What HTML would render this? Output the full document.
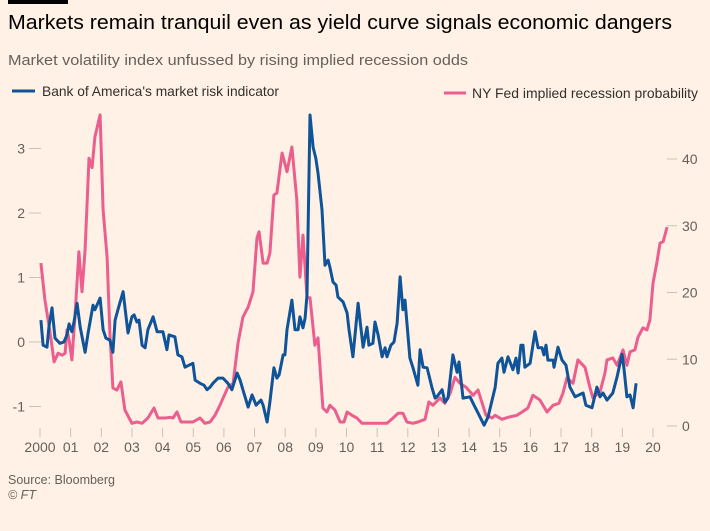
<!DOCTYPE html>
<html><head><meta charset="utf-8"><style>
body{margin:0;background:#fff1e5;}
svg{display:block;font-family:"Liberation Sans",sans-serif;}
</style></head><body>
<svg id="chart" width="710" height="531" viewBox="0 0 710 531">
<rect width="710" height="531" fill="#fff1e5"/>
<rect x="8" y="0" width="60" height="4" fill="#000"/>
<text x="8" y="29" font-size="20" fill="#000" textLength="664" lengthAdjust="spacingAndGlyphs">Markets remain tranquil even as yield curve signals economic dangers</text>
<text x="8" y="65" font-size="15" fill="#66605c" textLength="460" lengthAdjust="spacingAndGlyphs">Market volatility index unfussed by rising implied recession odds</text>
<g>
<line x1="12" y1="91" x2="35" y2="91" stroke="#0f5499" stroke-width="3"/>
<text x="42" y="96" font-size="14" fill="#33302e" textLength="237" lengthAdjust="spacingAndGlyphs">Bank of America's market risk indicator</text>
</g>
<g>
<line x1="444" y1="93" x2="466" y2="93" stroke="#eb5e8d" stroke-width="3"/>
<text x="472" y="98" font-size="14" fill="#33302e" textLength="226" lengthAdjust="spacingAndGlyphs">NY Fed implied recession probability</text>
</g>
<g id="axes"></g>
<g id="series"></g>
<text x="8" y="484" font-size="12.5" fill="#66605c">Source: Bloomberg</text>
<text x="8" y="499" font-size="12.5" fill="#66605c" font-style="italic">© FT</text>
</svg>
<script>
const xTickYears=[2000,2001,2002,2003,2004,2005,2006,2007,2008,2009,2010,2011,2012,2013,2014,2015,2016,2017,2018,2019,2020];
const xTickLabels=["2000","01","02","03","04","05","06","07","08","09","10","11","12","13","14","15","16","17","18","19","20"];
const leftTicks=[-1,0,1,2,3];
const rightTicks=[0,10,20,30,40];
const boaDates=[0.03,0.10,0.23,0.29,0.39,0.49,0.65,0.78,0.88,0.95,1.04,1.11,1.21,1.31,1.47,1.57,1.73,1.79,1.96,2.06,2.15,2.28,2.38,2.45,2.54,2.71,2.87,3.00,3.07,3.16,3.23,3.33,3.43,3.52,3.69,3.82,4.01,4.14,4.21,4.40,4.50,4.63,4.73,4.86,4.99,5.06,5.22,5.35,5.45,5.55,5.64,5.81,5.97,6.13,6.26,6.43,6.53,6.62,6.79,6.92,7.05,7.21,7.28,7.41,7.50,7.63,7.73,7.80,7.93,7.99,8.06,8.22,8.32,8.42,8.48,8.58,8.65,8.71,8.81,8.91,9.00,9.07,9.20,9.30,9.40,9.46,9.56,9.66,9.72,9.89,10.02,10.08,10.21,10.38,10.54,10.67,10.73,10.86,10.93,11.03,11.16,11.26,11.32,11.45,11.55,11.65,11.75,11.84,11.91,12.07,12.17,12.33,12.40,12.50,12.63,12.79,12.89,12.95,13.12,13.21,13.31,13.47,13.61,13.67,13.80,14.03,14.13,14.29,14.49,14.62,14.85,14.94,15.07,15.14,15.27,15.43,15.53,15.60,15.69,15.76,15.82,15.99,16.15,16.25,16.38,16.44,16.51,16.57,16.74,16.77,16.90,17.03,17.16,17.29,17.46,17.59,17.72,17.81,18.01,18.17,18.27,18.37,18.50,18.69,18.83,18.99,19.05,19.15,19.25,19.35,19.45];
const boaValues=[0.34,-0.05,-0.08,0.23,0.53,0.06,-0.02,0,0.11,0.28,0.16,0.31,0.60,0.23,-0.16,0.14,0.57,0.50,0.68,0.19,0.06,0.03,-0.16,0.34,0.50,0.78,0.14,0.39,0.42,0.31,0.34,-0.05,-0.09,0.19,0.39,0.16,0.16,-0.12,0.11,0.08,-0.20,-0.23,-0.39,-0.36,-0.33,-0.59,-0.64,-0.67,-0.74,-0.70,-0.64,-0.56,-0.56,-0.64,-0.74,-0.48,-0.59,-0.74,-1.01,-0.82,-0.98,-0.90,-0.98,-1.24,-0.93,-0.40,-0.56,-0.51,-0.20,-0.20,0.19,0.65,0.19,0.19,0.39,0.22,0.37,0.73,3.52,3.02,2.85,2.62,2.05,1.19,1.27,1.16,0.93,0.88,0.70,0.62,0.45,0.19,-0.23,0.60,-0.08,0.23,-0.05,-0.02,0.31,0.11,-0.23,-0.09,-0.23,-0.05,0,0.29,1.01,0.50,0.65,-0.25,-0.40,-0.67,-0.12,-0.39,-0.40,-0.71,-0.87,-0.85,-0.74,-0.93,-0.87,-0.20,-0.47,-0.31,-0.87,-0.85,-0.95,-1.10,-1.29,-1.16,-0.70,-0.33,-0.25,-0.47,-0.23,-0.43,-0.25,-0.48,-0.05,-0.05,-0.39,-0.33,0.16,-0.09,-0.09,-0.20,-0.05,-0.28,-0.28,-0.39,-0.08,-0.28,-0.36,-0.70,-0.85,-0.82,-0.79,-0.98,-1.02,-0.70,-0.85,-0.79,-0.90,-0.79,-0.54,-0.19,-0.40,-0.85,-0.82,-1.02,-0.64];
const fedDates=[0.03,0.16,0.33,0.46,0.59,0.72,0.82,0.88,0.95,1.04,1.14,1.27,1.37,1.47,1.60,1.70,1.79,1.96,2.06,2.19,2.28,2.38,2.51,2.64,2.77,3.00,3.16,3.33,3.52,3.72,3.85,4.08,4.24,4.34,4.47,4.60,4.99,5.22,5.38,5.55,5.71,5.87,6.13,6.30,6.46,6.62,6.79,6.95,7.08,7.15,7.28,7.41,7.50,7.63,7.73,7.90,8.06,8.22,8.38,8.48,8.58,8.71,8.81,8.97,9.07,9.23,9.36,9.46,9.62,9.79,9.92,10.02,10.18,10.34,10.51,11.00,11.32,11.52,11.68,11.84,11.97,12.17,12.33,12.56,12.69,12.82,13.05,13.21,13.38,13.54,13.70,13.90,14.13,14.29,14.55,14.75,14.85,15.07,15.27,15.56,15.73,15.92,16.08,16.31,16.54,16.74,16.93,17.06,17.19,17.39,17.55,17.78,17.94,18.04,18.27,18.43,18.50,18.69,18.83,19.02,19.15,19.25,19.41,19.51,19.67,19.80,19.90,20.00,20.13,20.23,20.33,20.46];
const fedValues=[24.4,18.9,14.0,9.6,10.9,10.6,10.9,14.4,12.9,9.9,16.3,26.1,20.1,26.4,40.1,38.7,43.3,46.6,32.4,25.3,13.9,5.7,5.4,6.6,2.4,0.4,0.6,0.4,1.2,2.7,1.2,1.2,1.3,1.2,2.1,0.6,0.6,1.2,0.4,0.6,1.6,3.1,5.8,6.4,12.4,16.3,17.8,20.1,28.2,29.1,24.4,24.4,25.9,34.6,34.9,40.9,38.1,41.8,33.9,22.3,28.6,19.2,19.2,12.1,13.2,2.7,2.1,3.1,2.4,0.6,0.6,2.1,1.6,1.2,0.4,0.4,0.4,1.2,1.9,1.9,0.6,0.4,0.6,1.0,3.6,3.1,4.2,3.4,4.9,7.3,6.4,5.8,4.6,5.4,1.6,1.2,1.6,1.0,1.3,1.6,2.1,2.7,4.6,3.9,2.1,3.1,3.4,4.9,7.2,6.4,9.9,8.8,5.8,4.2,5.1,7.9,9.9,10.2,9.1,11.4,9.1,11.1,11.4,13.3,14.7,14.4,15.9,21.4,24.6,27.4,27.6,29.8];

const NS="http://www.w3.org/2000/svg";
function xScale(yearsSince2000){return 40+30.65*yearsSince2000;}
function yLeft(v){return 342-64.5*v;}
function yRight(v){return 426-6.675*v;}
const axes=document.getElementById('axes');
const series=document.getElementById('series');
function mk(tag,attrs,parent){const e=document.createElementNS(NS,tag);for(const k in attrs)e.setAttribute(k,attrs[k]);parent.appendChild(e);return e;}

xTickYears.forEach((yr,i)=>{
  const x=xScale(yr-2000);
  const t=mk('line',{x1:x,x2:x,y1:428,y2:437,stroke:'#ccc1b7','stroke-width':1},axes);
  
  
  const l=mk('text',{x:x,y:452,'font-size':14,fill:'#66605c','text-anchor':'middle'},axes);
  l.textContent=xTickLabels[i];
  
  
});
leftTicks.forEach(v=>{
  const y=yLeft(v);
  const t=mk('line',{x1:29,x2:41,y1:y,y2:y,stroke:'#ccc1b7','stroke-width':1},axes);
  
  
  const l=mk('text',{x:25,y:y+5,'font-size':14,fill:'#66605c','text-anchor':'end'},axes);
  l.textContent=String(v);
  
  
});
rightTicks.forEach(v=>{
  const y=yRight(v);
  const t=mk('line',{x1:667,x2:677,y1:y,y2:y,stroke:'#ccc1b7','stroke-width':1},axes);
  
  
  const l=mk('text',{x:682,y:y+5,'font-size':14,fill:'#66605c'},axes);
  l.textContent=String(v);
  
  
});
function path(dates,vals,yf){return dates.map((d,i)=>(i?'L':'M')+xScale(d).toFixed(1)+','+yf(vals[i]).toFixed(1)).join(' ');}
const pf=mk('path',{d:path(fedDates,fedValues,yRight),fill:'none',stroke:'#eb5e8d','stroke-width':3,'stroke-linejoin':'round'},series);


const pb=mk('path',{d:path(boaDates,boaValues,yLeft),fill:'none',stroke:'#0f5499','stroke-width':3,'stroke-linejoin':'round'},series);


</script>
</body></html>
